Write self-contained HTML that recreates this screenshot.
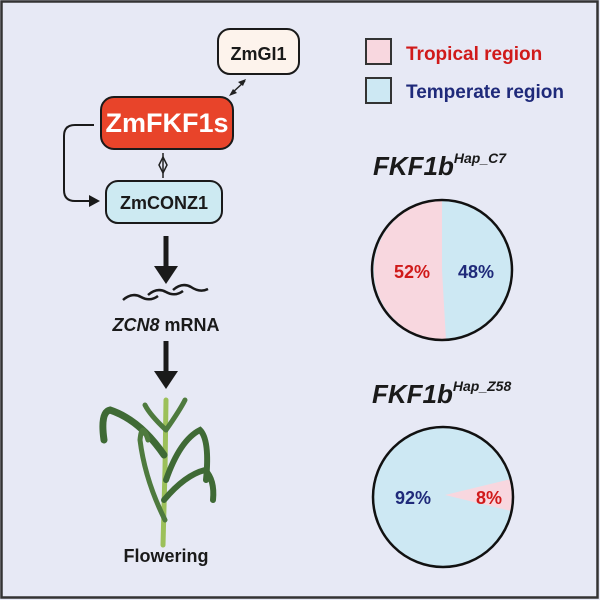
<!DOCTYPE html>
<html><head><style>
body{margin:0;width:600px;height:600px;overflow:hidden;background:#e7e9f5}
svg{display:block}
text{font-family:"Liberation Sans",sans-serif;font-weight:bold}
</style></head><body>
<svg width="600" height="600" viewBox="0 0 600 600">
<rect x="1.5" y="1.5" width="596" height="596" fill="#e7e9f5" stroke="#333" stroke-width="2.5"/>
<rect x="218" y="29" width="81" height="45" rx="12" fill="#fdf3ec" stroke="#1a1a1a" stroke-width="2"/>
<text x="258.5" y="60" font-size="18" text-anchor="middle" fill="#1a1a1a">ZmGI1</text>
<rect x="101" y="97" width="132" height="52" rx="13" fill="#e8442a" stroke="#1a1a1a" stroke-width="2"/>
<text x="167" y="132" font-size="27" text-anchor="middle" fill="#fff">ZmFKF1s</text>
<rect x="106" y="181" width="116" height="42" rx="12" fill="#cdeaf2" stroke="#1a1a1a" stroke-width="2"/>
<text x="164" y="209" font-size="18" text-anchor="middle" fill="#1a1a1a">ZmCONZ1</text>
<line x1="231" y1="94" x2="245" y2="81" stroke="#222" stroke-width="1.5"/>
<path d="M246 79 L238 82 L243 86 Z M229 96 L237 93 L233 89 Z" fill="#222"/>
<line x1="163" y1="153" x2="163" y2="178" stroke="#222" stroke-width="1.5"/>
<path d="M163 157 L167 165 L163 173 L159 165 Z" fill="none" stroke="#222" stroke-width="1.5"/>
<path d="M94 125 L75 125 Q64 125 64 136 L64 190 Q64 201 75 201 L94 201" fill="none" stroke="#1a1a1a" stroke-width="2"/>
<path d="M100 201 L89 195 L89 207 Z" fill="#1a1a1a"/>
<line x1="166" y1="236" x2="166" y2="270" stroke="#1a1a1a" stroke-width="5"/>
<path d="M154 266 L178 266 L166 284 Z" fill="#1a1a1a"/>
<line x1="166" y1="341" x2="166" y2="375" stroke="#1a1a1a" stroke-width="5"/>
<path d="M154 371 L178 371 L166 389 Z" fill="#1a1a1a"/>
<g fill="none" stroke="#1a1a1a" stroke-width="2.5">
<path d="M123 300 Q132 292 141 297 Q150 302 158 296"/>
<path d="M148 295 Q157 287 166 292 Q175 297 183 291"/>
<path d="M173 290 Q182 282 191 287 Q200 293 208 289"/>
</g>
<text x="166" y="331" font-size="18" text-anchor="middle" fill="#1a1a1a"><tspan font-style="italic">ZCN8</tspan> mRNA</text>
<g fill="none" stroke-linecap="round">
<path d="M163 545 L165 470 L166 400" stroke="#9cc05a" stroke-width="5"/>
<path d="M164 455 Q140 420 110 410 Q100 412 104 440" stroke="#3f6a35" stroke-width="7"/>
<path d="M166 480 Q180 440 200 430 Q210 440 206 480" stroke="#3f6a35" stroke-width="6"/>
<path d="M164 500 Q185 475 205 470 Q215 480 213 500" stroke="#3f6a35" stroke-width="6"/>
<path d="M165 520 Q145 480 140 440 Q142 420 148 440" stroke="#4e7a3e" stroke-width="5"/>
<path d="M166 430 Q150 415 145 405 M166 430 Q180 410 185 400" stroke="#4e7a3e" stroke-width="5"/>
</g>
<text x="166" y="562" font-size="18" text-anchor="middle" fill="#1a1a1a">Flowering</text>
<rect x="366" y="39" width="25" height="25" fill="#f8d7df" stroke="#333" stroke-width="2"/>
<rect x="366" y="78" width="25" height="25" fill="#cde8f3" stroke="#333" stroke-width="2"/>
<text x="406" y="60" font-size="19" fill="#d01a1a">Tropical region</text>
<text x="406" y="98" font-size="19" fill="#1f2a7a">Temperate region</text>
<text x="373" y="175" font-size="26" font-style="italic" fill="#1a1a1a">FKF1b<tspan font-size="14" dy="-12">Hap_C7</tspan></text>
<text x="372" y="403" font-size="26" font-style="italic" fill="#1a1a1a">FKF1b<tspan font-size="14" dy="-12">Hap_Z58</tspan></text>
<circle cx="442" cy="270" r="70" fill="#cde8f3"/>
<path d="M442 270 L442 200 A70 70 0 0 0 446 340 Z" fill="#f8d7df"/>
<circle cx="442" cy="270" r="70" fill="none" stroke="#111" stroke-width="2.5"/>
<text x="412" y="278" font-size="18" text-anchor="middle" fill="#d01a1a">52%</text>
<text x="476" y="278" font-size="18" text-anchor="middle" fill="#1f2a7a">48%</text>
<circle cx="443" cy="497" r="70" fill="#cde8f3"/>
<path d="M445 495 L511 479 A70 70 0 0 1 511 511 Z" fill="#f8d7df"/>
<circle cx="443" cy="497" r="70" fill="none" stroke="#111" stroke-width="2.5"/>
<text x="413" y="504" font-size="18" text-anchor="middle" fill="#1f2a7a">92%</text>
<text x="489" y="504" font-size="18" text-anchor="middle" fill="#d01a1a">8%</text>
</svg>
</body></html>
